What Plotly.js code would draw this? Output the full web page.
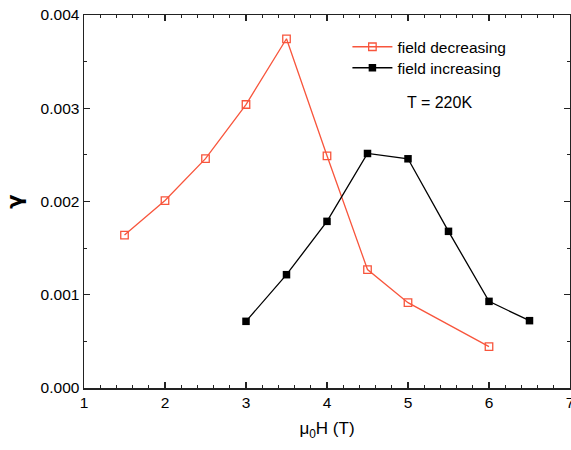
<!DOCTYPE html>
<html>
<head>
<meta charset="utf-8">
<script src="https://cdn.plot.ly/plotly-3.0.1.min.js"></script>
<style>html,body{margin:0;padding:0;background:#fff;}#chart{width:571px;height:450px;}</style>
</head>
<body>
<div id="chart"></div>
<script>
const fieldDecX = [1.5, 2, 2.5, 3, 3.5, 4, 4.5, 5, 6];
const fieldDecY = [0.00164, 0.00201, 0.00246, 0.00304, 0.003745, 0.00249, 0.00127, 0.000915, 0.000443];
const fieldIncX = [3, 3.5, 4, 4.5, 5, 5.5, 6, 6.5];
const fieldIncY = [0.000715, 0.001215, 0.001787, 0.002515, 0.002458, 0.00168, 0.000929, 0.000722];
const seriesNames = ["field decreasing", "field increasing"];
const noteText = "T = 220K";

const font = {family: "Liberation Sans, Arial, sans-serif", color: "#000"};

const traces = [
  {x: fieldDecX, y: fieldDecY, name: seriesNames[0], mode: "lines+markers", legend: "legend",
   line: {color: "#F8553C", width: 1.3},
   marker: {symbol: "square-open", size: 7.5, color: "#F8553C", line: {width: 1.3, color: "#F8553C"}}},
  {x: fieldIncX, y: fieldIncY, name: seriesNames[1], mode: "lines+markers", legend: "legend2",
   line: {color: "#000", width: 1.3},
   marker: {symbol: "square", size: 7.5, color: "#000"}}
];

const axisCommon = {
  showline: true, linecolor: "#222", linewidth: 1.5, mirror: "allticks",
  ticks: "inside", ticklen: 6, tickwidth: 1.2, tickcolor: "#222",
  showgrid: false, zeroline: false, ticklabeloverflow: "allow",
  tickfont: Object.assign({size: 15.5}, font)
};

const legendCommon = {xanchor: "left", yanchor: "middle", bgcolor: "rgba(0,0,0,0)",
  itemwidth: 40, font: Object.assign({size: 15.5}, font)};

const layout = {
  width: 571, height: 450,
  margin: {l: 84, r: 1, t: 15, b: 62},
  paper_bgcolor: "#fff", plot_bgcolor: "#fff",
  showlegend: true,
  legend: Object.assign({}, legendCommon, {x: 0.542, y: (387.7 - 46.7) / 373.2}),
  legend2: Object.assign({}, legendCommon, {x: 0.542, y: (387.7 - 67.7) / 373.2}),
  xaxis: Object.assign({}, axisCommon, {
    range: [1, 7], dtick: 1, tick0: 1,
    minor: {dtick: 0.2, ticks: "inside", ticklen: 3, tickcolor: "#222", tickwidth: 1},
    title: {text: "μ<sub>0</sub>H (T)", font: Object.assign({size: 17}, font), standoff: 12}
  }),
  yaxis: Object.assign({}, axisCommon, {
    range: [0, 0.004], dtick: 0.001, tickformat: ".3f",
    minor: {dtick: 0.0005, ticks: "inside", ticklen: 3, tickcolor: "#222", tickwidth: 1},
    title: {text: "<b>γ</b>", font: {family: "DejaVu Sans, sans-serif", size: 21, color: "#000"}, standoff: 12}
  }),
  annotations: [
    {text: noteText, xref: "paper", yref: "paper", x: 0.6605, y: 0.7664, xanchor: "left", yanchor: "middle",
     showarrow: false, font: Object.assign({size: 16}, font)}
  ]
};

Plotly.newPlot("chart", traces, layout, {displayModeBar: false, staticPlot: true});
</script>
</body>
</html>
